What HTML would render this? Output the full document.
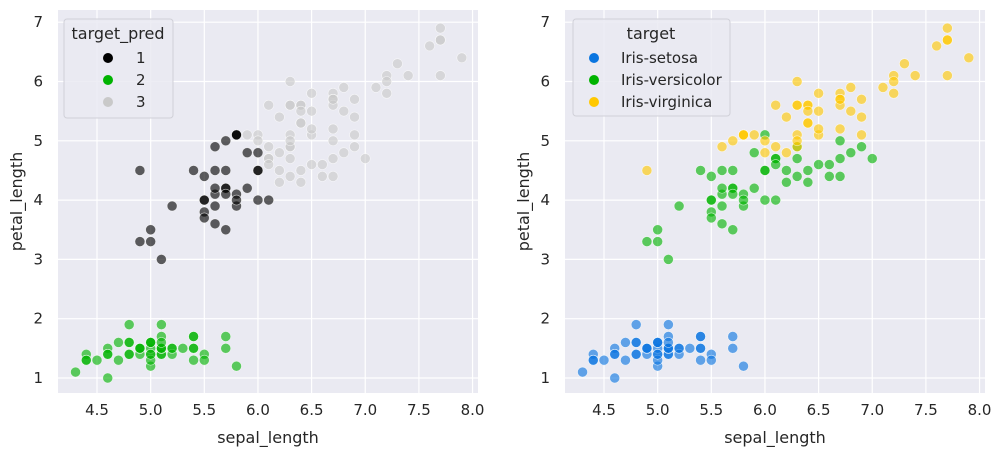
<!DOCTYPE html>
<html><head><meta charset="utf-8"><style>
body{margin:0;background:#fff;}
svg{display:block;font-family:"DejaVu Sans","Liberation Sans",sans-serif;}
</style></head><body>
<svg id="fig" width="1000" height="457"></svg>
<script>
const sepalLength=[5.1,4.9,4.7,4.6,5.0,5.4,4.6,5.0,4.4,4.9,5.4,4.8,4.8,4.3,5.8,5.7,5.4,5.1,5.7,5.1,5.4,5.1,4.6,5.1,4.8,5.0,5.0,5.2,5.2,4.7,4.8,5.4,5.2,5.5,4.9,5.0,5.5,4.9,4.4,5.1,5.0,4.5,4.4,5.0,5.1,4.8,5.1,4.6,5.3,5.0,
7.0,6.4,6.9,5.5,6.5,5.7,6.3,4.9,6.6,5.2,5.0,5.9,6.0,6.1,5.6,6.7,5.6,5.8,6.2,5.6,5.9,6.1,6.3,6.1,6.4,6.6,6.8,6.7,6.0,5.7,5.5,5.5,5.8,6.0,5.4,6.0,6.7,6.3,5.6,5.5,5.5,6.1,5.8,5.0,5.6,5.7,5.7,6.2,5.1,5.7,
6.3,5.8,7.1,6.3,6.5,7.6,4.9,7.3,6.7,7.2,6.5,6.4,6.8,5.7,5.8,6.4,6.5,7.7,7.7,6.0,6.9,5.6,7.7,6.3,6.7,7.2,6.2,6.1,6.4,7.2,7.4,7.9,6.4,6.3,6.1,7.7,6.3,6.4,6.0,6.9,6.7,6.9,5.8,6.8,6.7,6.7,6.3,6.5,6.2,5.9];
const petalLength=[1.4,1.4,1.3,1.5,1.4,1.7,1.4,1.5,1.4,1.5,1.5,1.6,1.4,1.1,1.2,1.5,1.3,1.4,1.7,1.5,1.7,1.5,1.0,1.7,1.9,1.6,1.6,1.5,1.4,1.6,1.6,1.5,1.5,1.4,1.5,1.2,1.3,1.5,1.3,1.5,1.3,1.3,1.3,1.6,1.9,1.4,1.6,1.4,1.5,1.4,
4.7,4.5,4.9,4.0,4.6,4.5,4.7,3.3,4.6,3.9,3.5,4.2,4.0,4.7,3.6,4.4,4.5,4.1,4.5,3.9,4.8,4.0,4.9,4.7,4.3,4.4,4.8,5.0,4.5,3.5,3.8,3.7,3.9,5.1,4.5,4.5,4.7,4.4,4.1,4.0,4.4,4.6,4.0,3.3,4.2,4.2,4.2,4.3,3.0,4.1,
6.0,5.1,5.9,5.6,5.8,6.6,4.5,6.3,5.8,6.1,5.1,5.3,5.5,5.0,5.1,5.3,5.5,6.7,6.9,5.0,5.7,4.9,6.7,4.9,5.7,6.0,4.8,4.9,5.6,5.8,6.1,6.4,5.6,5.1,5.6,6.1,5.6,5.5,4.8,5.4,5.6,5.1,5.1,5.9,5.7,5.2,5.0,5.2,5.4,5.1];
const targetNames=["Iris-setosa","Iris-versicolor","Iris-virginica"];
const predLabels=["1","2","3"];
const xTicks=[4.5,5.0,5.5,6.0,6.5,7.0,7.5,8.0];
const yTicks=[1,2,3,4,5,6,7];

const NS="http://www.w3.org/2000/svg";
const svg=document.getElementById('fig');
function mk(tag,attrs,parent){const e=document.createElementNS(NS,tag);for(const k in attrs)e.setAttribute(k,attrs[k]);(parent||svg).appendChild(e);return e;}
function target(i){return i<50?0:(i<100?1:2);}
function pred(i){const s=sepalLength[i],p=petalLength[i];
  if(p<2.5)return 1;
  if(s<=5.8||(s<=6.0&&p<=4.8)||(s<=6.1&&p<=4.0))return 0;
  return 2;}
const predColors=["#000000","#00b300","#c9c9c9"];
const targetColors=["#0a75e0","#00b300","#ffc800"];

function panel(ox,colorFn,colors,name){
  const L=ox,R=ox+420,T=10,B=393;
  const xs=v=>ox+39+(v-4.5)*107.3;
  const ys=v=>378-(v-1)*59.3;
  const g=mk('g',{});
  
  
  mk('rect',{x:L,y:T,width:R-L,height:B-T,fill:'#eaeaf2'},g);
  xTicks.forEach(t=>{const x=xs(t);
    const l=mk('line',{x1:x,x2:x,y1:T,y2:B,stroke:'#fff','stroke-width':1.2},g);
    
    const tx=mk('text',{x:x,y:B+22,'text-anchor':'middle','font-size':15,fill:'#262626'},g);
    tx.textContent=t.toFixed(1);
    });
  yTicks.forEach(t=>{const y=ys(t);
    const l=mk('line',{x1:L,x2:R,y1:y,y2:y,stroke:'#fff','stroke-width':1.2},g);
    
    const tx=mk('text',{x:L-15,y:y+5,'text-anchor':'end','font-size':15,fill:'#262626'},g);
    tx.textContent=String(t);
    });
  const xl=mk('text',{x:(L+R)/2,y:443,'text-anchor':'middle','font-size':16,fill:'#262626'},g);
  xl.textContent='sepal_length';
  
  const yl=mk('text',{x:0,y:0,'text-anchor':'middle','font-size':16,fill:'#262626',transform:`translate(${L-36},${(T+B)/2}) rotate(-90)`},g);
  yl.textContent='petal_length';
  
  for(let i=0;i<sepalLength.length;i++){
    const c=mk('circle',{cx:xs(sepalLength[i]),cy:ys(petalLength[i]),r:5,fill:colors[colorFn(i)],'fill-opacity':0.62,stroke:'#fff','stroke-width':0.6,'stroke-opacity':0.7},g);
    
    
  }
  return g;
}
panel(58,pred,predColors,'left-scatter-panel');
panel(565,target,targetColors,'right-scatter-panel');

function legend(x,y,w,h,title,titleX,labels,colors,mx,lx,name){
  const g=mk('g',{});
  
  
  mk('rect',{x:x,y:y,width:w,height:h,rx:3,fill:'#eaeaf2','fill-opacity':0.85,stroke:'#d0d0d8'},g);
  const t=mk('text',{x:titleX,y:y+20,'text-anchor':'middle','font-size':16,fill:'#262626'},g);
  t.textContent=title;
  
  labels.forEach((lab,k)=>{const yy=y+39+k*22;
    const c=mk('circle',{cx:mx,cy:yy,r:5,fill:colors[k]},g);
    
    const tx=mk('text',{x:lx,y:yy+5,'font-size':15,fill:'#262626'},g);
    tx.textContent=lab;
    });
}
legend(64,19,109,99,'target_pred',118,predLabels,predColors,108,136,'left-legend');
legend(573,19,157,97,'target',651,targetNames,targetColors,594,621,'right-legend');
</script>
</body></html>
